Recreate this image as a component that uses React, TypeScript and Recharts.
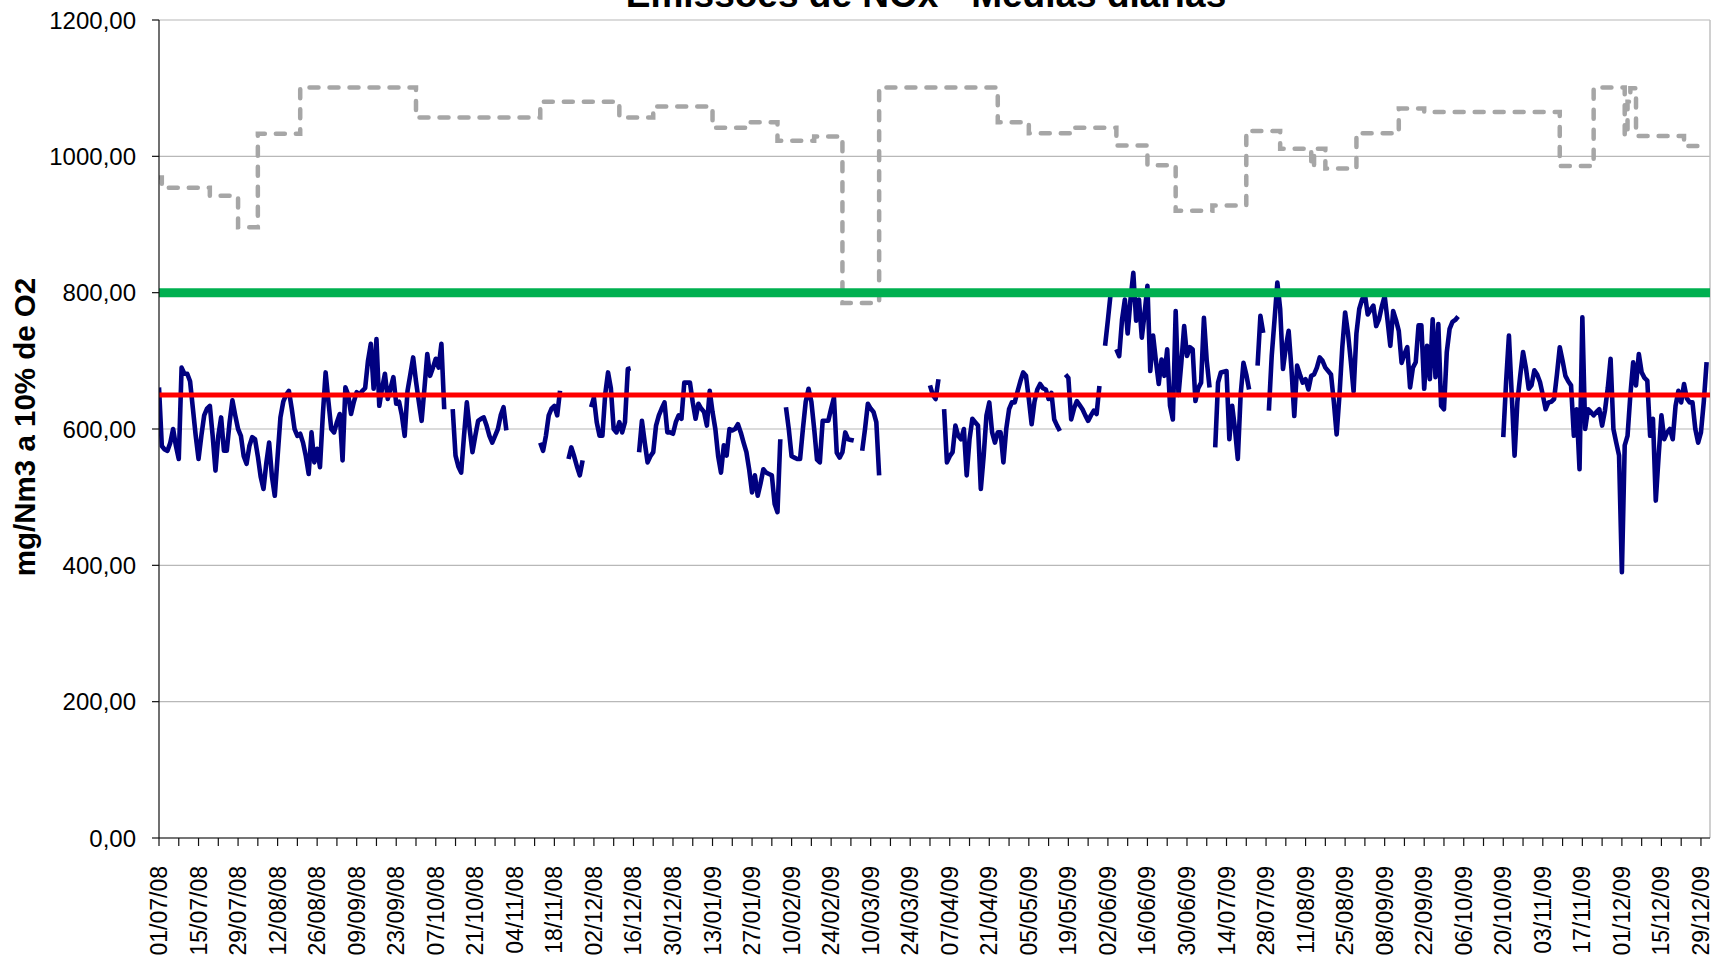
import React from 'react';
import {
  LineChart,
  Line,
  XAxis,
  YAxis,
  CartesianGrid,
  ReferenceLine,
} from 'recharts';

// daily NOx means (mg/Nm3 a 10% O2), one array per month, null = no data
const jul08 = [661, 575, 570, 568, 580, 600, 575, 556, 690, 681, 681, 670, 630, 590, 556, 590, 620, 630, 634, 590, 539, 590, 617, 568, 568, 610, 642, 620, 600, 590, 560];
const aug08 = [549, 575, 588, 585, 560, 530, 512, 550, 580, 530, 502, 560, 617, 640, 650, 656, 630, 600, 590, 593, 580, 560, 534, 595, 551, 571, 544, 620, 683, 640, 600];
const sep08 = [595, 610, 622, 554, 661, 650, 622, 640, 654, 650, 656, 660, 700, 725, 659, 732, 634, 660, 681, 644, 660, 676, 637, 640, 620, 590, 656, 680, 705, 670];
const oct08 = [640, 612, 660, 710, 678, 690, 703, 690, 725, 629, null, null, 629, 561, 545, 536, 590, 639, 600, 566, 590, 612, 615, 617, 605, 590, 580, 590, 600, 620, 632];
const nov08 = [598, null, null, null, null, null, null, null, null, null, null, null, 580, 568, 590, 620, 630, 634, 620, 656, null, null, 556, 573, 560, 545, 532, 554, null, null];
const dec08 = [632, 646, 610, 590, 590, 651, 683, 660, 600, 595, 610, 595, 610, 688, 689, null, null, 566, 612, 580, 551, 560, 566, 605, 620, 630, 639, 595, 595, 593, 610];
const jan09 = [620, 615, 668, 668, 668, 639, 615, 637, 630, 625, 605, 656, 625, 600, 560, 536, 576, 561, 600, 598, 600, 607, 595, 580, 566, 540, 507, 532, 502, 520, 541];
const feb09 = [536, 534, 532, 490, 478, 585, null, 632, 600, 560, 558, 556, 556, 600, 640, 659, 640, 600, 555, 551, 612, 612, 612, 630, 646, 565, 558, 566];
const mar09 = [595, 585, 584, 583, null, null, 568, 600, 637, 630, 625, 610, 532, null, null, null, null, null, null, null, null, null, null, null, null, null, null, null, null, null, 664];
const apr09 = [650, 644, 673, null, 629, 551, 560, 566, 605, 590, 585, 600, 532, 585, 615, 610, 605, 512, 560, 620, 639, 595, 580, 595, 595, 551, 600, 629, 639, 639];
const may09 = [655, 670, 683, 678, 644, 607, 640, 658, 666, 660, 658, 644, 653, 614, 605, 597, null, 680, 675, 614, 630, 641, 635, 629, 620, 612, 620, 627, 622, 663, null];
const jun09 = [722, 760, 800, null, 717, 707, 760, 790, 740, 790, 829, 759, 790, 734, 770, 810, 685, 737, 700, 666, 702, 678, 717, 634, 614, 773, 650, 697, 751, 707];
const jul09 = [720, 717, 641, 660, 668, 763, 700, 661, null, 573, 668, 683, 684, 685, 585, 634, 600, 556, 650, 697, 680, 658, null, null, 693, 766, 741, null, 627, 707, 760];
const aug09 = [815, 776, 688, 720, 744, 688, 619, 693, 680, 668, 673, 658, 678, 680, 690, 705, 700, 690, 685, 680, 640, 592, 650, 720, 771, 741, 700, 655, 740, 776, 790];
const sep09 = [798, 768, 775, 781, 751, 761, 780, 795, 760, 722, 773, 760, 744, 697, 710, 720, 661, 690, 698, 752, 752, 659, 722, 673, 761, 676, 754, 634, 629, 713];
const oct09 = [747, 757, 760, 765, null, null, null, null, null, null, null, null, null, null, null, null, null, null, null, 588, 669, 737, 650, 561, 640, 678, 713, 690, 659, 664, 686];
const nov09 = [680, 669, 650, 629, 639, 640, 644, 680, 720, 700, 678, 670, 664, 590, 629, 541, 764, 600, 629, 625, 620, 625, 629, 605, 627, 660, 703, 600, 580, 561];
const dec09 = [390, 576, 590, 650, 698, 664, 710, 683, 675, 671, 590, 615, 495, 560, 620, 585, 595, 600, 585, 634, 656, 639, 666, 645, 639, 639, 600, 580, 595, 640, 698];

const months = [jul08, aug08, sep08, oct08, nov08, dec08, jan09, feb09, mar09, apr09, may09, jun09, jul09, aug09, sep09, oct09, nov09, dec09];

// stepped reference series (grey dashed): day offset from 01/07/08 where the level changes
const limitStepDays = [0, 1, 18, 28, 35, 50, 91, 135, 163, 175, 196, 208, 219, 232, 242, 255, 297, 308, 323, 339, 350, 360, 373, 385, 397, 408, 409, 413, 424, 439, 448, 496, 508, 519, 520, 521, 523, 540, 548];
const limitStepValues = [969, 954, 942, 896, 1033, 1101, 1057, 1080, 1057, 1073, 1042, 1050, 1023, 1029, 785, 1101, 1050, 1034, 1042, 1016, 987, 920, 928, 1037, 1011, 984, 1011, 982, 1034, 1070, 1065, 986, 1101, 1030, 1080, 1100, 1030, 1015, 1015];

const VLE = 800;
const TARGET = 650;

const tickLabels = [
  '01/07/08', '15/07/08', '29/07/08', '12/08/08', '26/08/08', '09/09/08', '23/09/08', '07/10/08',
  '21/10/08', '04/11/08', '18/11/08', '02/12/08', '16/12/08', '30/12/08', '13/01/09', '27/01/09',
  '10/02/09', '24/02/09', '10/03/09', '24/03/09', '07/04/09', '21/04/09', '05/05/09', '19/05/09',
  '02/06/09', '16/06/09', '30/06/09', '14/07/09', '28/07/09', '11/08/09', '25/08/09', '08/09/09',
  '22/09/09', '06/10/09', '20/10/09', '03/11/09', '17/11/09', '01/12/09', '15/12/09', '29/12/09',
];
const yTicks = [0, 200, 400, 600, 800, 1000, 1200];

const X_MAX = 549.2;
const FONT = '"Liberation Sans", Arial, sans-serif';

const noxData: { day: number; nox: number | null }[] = [];
let d = 0;
months.forEach((m) => {
  m.forEach((v) => {
    noxData.push({ day: d, nox: v });
    d++;
  });
});

const limitData = limitStepDays.map((day, i) => ({ day, limit: limitStepValues[i] }));
const vleData = [{ day: 0, v: VLE }, { day: X_MAX, v: VLE }];
const targetData = [{ day: 0, v: TARGET }, { day: X_MAX, v: TARGET }];

// a tick every week, a label every two weeks
const xTicks: number[] = [];
for (let t = 0; t <= tickLabels.length * 14 - 14; t += 7) xTicks.push(t);

const DateTick = (props: any) => {
  const { x, y, payload } = props;
  const v = payload.value;
  if (v % 14 !== 0) return <g />;
  return (
    <text
      x={x}
      y={y}
      transform={`rotate(-90 ${x} ${y})`}
      textAnchor="end"
      dy="0.35em"
      fontSize={23}
      fontFamily={FONT}
      fill="#000"
    >
      {tickLabels[v / 14]}
    </text>
  );
};

const fmt = (v: number) => v.toFixed(2).replace('.', ',');

export default function App() {
  return (
    <div style={{ position: 'absolute', left: 0, top: 0, width: 1724, height: 960, background: '#fff' }}>
      <LineChart
        width={1724}
        height={960}
        margin={{ top: 20, right: 14, left: 0, bottom: 0 }}
      >
        <CartesianGrid vertical={false} stroke="#b8b8b8" strokeWidth={1.2} />
        <XAxis
          type="number"
          dataKey="day"
          domain={[0, X_MAX]}
          ticks={xTicks}
          interval={0}
          height={122}
          tickSize={8}
          tickMargin={20}
          tick={<DateTick />}
          axisLine={{ stroke: '#111', strokeWidth: 1.2 }}
          tickLine={{ stroke: '#111', strokeWidth: 1.2 }}
          allowDataOverflow
        />
        <YAxis
          type="number"
          domain={[0, 1200]}
          ticks={yTicks}
          width={159}
          tickSize={7}
          tickMargin={16}
          tickFormatter={fmt}
          tick={{ fill: '#000', fontSize: 24, fontFamily: FONT }}
          axisLine={{ stroke: '#111', strokeWidth: 1.2 }}
          tickLine={{ stroke: '#111', strokeWidth: 1.2 }}
        />
        <ReferenceLine x={X_MAX} stroke="#c0c0c0" strokeWidth={1.5} />
        <Line
          data={limitData}
          dataKey="limit"
          type="stepAfter"
          stroke="#a6a6a6"
          strokeWidth={4.5}
          strokeDasharray="9 11"
          strokeLinecap="round"
          dot={false}
          isAnimationActive={false}
        />
        <Line
          data={noxData}
          dataKey="nox"
          type="linear"
          stroke="#000080"
          strokeWidth={4.6}
          strokeLinejoin="round"
          dot={false}
          isAnimationActive={false}
        />
        <Line
          data={vleData}
          dataKey="v"
          type="linear"
          stroke="#00b050"
          strokeWidth={9}
          dot={false}
          isAnimationActive={false}
        />
        <Line
          data={targetData}
          dataKey="v"
          type="linear"
          stroke="#ff0000"
          strokeWidth={5}
          dot={false}
          isAnimationActive={false}
        />
      </LineChart>
      <svg
        width={1724}
        height={960}
        style={{ position: 'absolute', left: 0, top: 0, pointerEvents: 'none' }}
      >
        <text x={926} y={7} textAnchor="middle" fontSize={37} fontWeight="bold" fontFamily={FONT} fill="#000">
          Emissões de NOx - Médias diárias
        </text>
        <text
          x={35}
          y={427}
          transform="rotate(-90 35 427)"
          textAnchor="middle"
          fontSize={29.5}
          fontWeight="bold"
          fontFamily={FONT}
          fill="#000"
        >
          mg/Nm3 a 10% de O2
        </text>
      </svg>
    </div>
  );
}
